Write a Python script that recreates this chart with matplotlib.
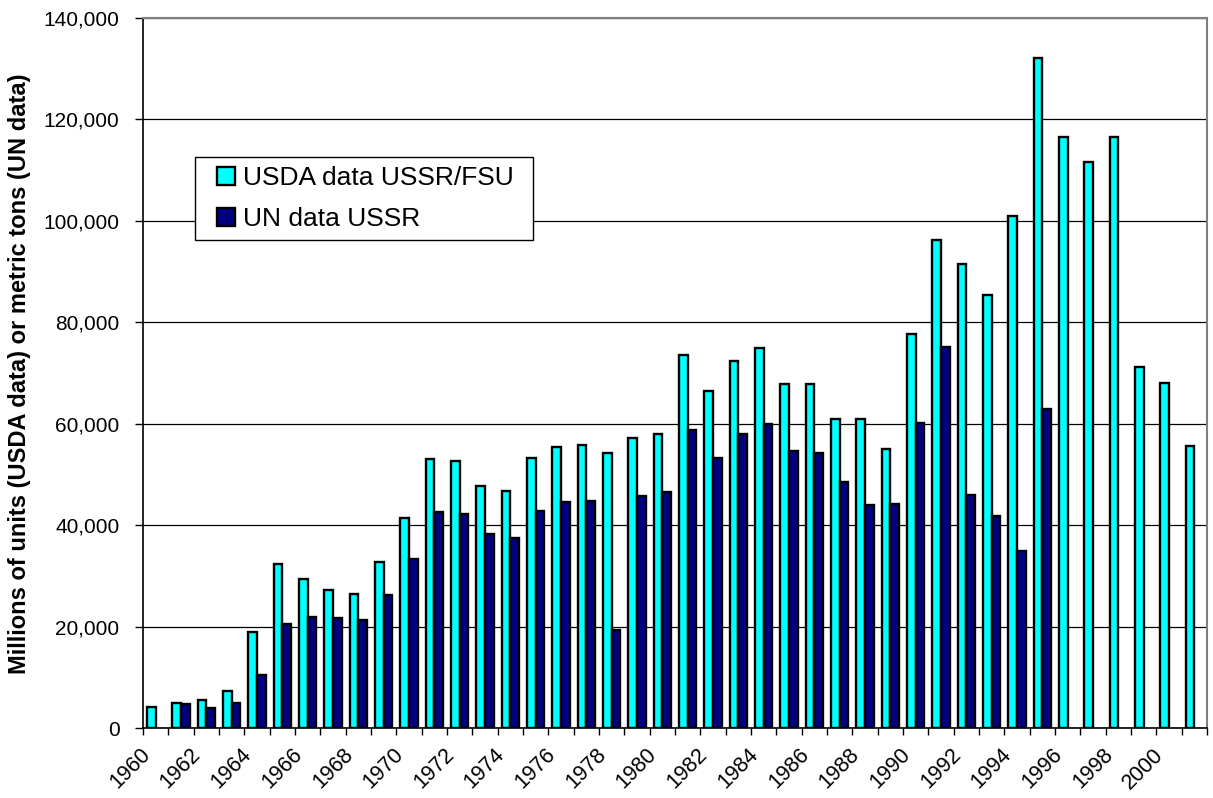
import matplotlib
matplotlib.use("Agg")
import matplotlib.pyplot as plt
import matplotlib.transforms as mtransforms
from matplotlib.patches import Rectangle
import numpy as np

years = list(range(1960, 2002))
usda = [4100, 5000, 5600, 7300, 19000, 32400, 29300, 27200, 26400, 32700,
        41500, 53100, 52600, 47800, 46800, 53300, 55500, 55800, 54200, 57100,
        58000, 73500, 66500, 72400, 74900, 67900, 67900, 60900, 60900, 55000,
        77600, 96300, 91400, 85300, 101000, 132200, 116600, 111600, 116500, 71100,
        68100, 55600]
un = [0, 4800, 3900, 5000, 10450, 20600, 21900, 21600, 21200, 26200,
      33300, 42500, 42100, 38200, 37500, 42800, 44500, 44700, 19400, 45700,
      46500, 58800, 53200, 58000, 59900, 54600, 54200, 48600, 44000, 44200,
      60200, 75100, 46000, 41900, 34900, 62900, 0, 0, 0, 0,
      0, 0]
series_names = ["USDA data USSR/FSU", "UN data USSR"]
yticks = [0, 20000, 40000, 60000, 80000, 100000, 120000, 140000]
ylabel = "Millions of units (USDA data) or metric tons (UN data)"

plt.rcParams['font.family'] = ['Liberation Sans', 'DejaVu Sans']

W, H = 1213, 798
fig = plt.figure(figsize=(W / 100, H / 100), dpi=100)
ax = fig.add_axes([143 / W, 1 - 728 / H, (1207 - 143) / W, (728 - 18) / H])

n = len(years)
x = np.arange(n) + 0.5
bw = 0.34
un_plot = [v if v > 0 else np.nan for v in un]
ax.bar(x - bw / 2, usda, width=bw, color='#00FFFF', edgecolor='black', linewidth=1.7,
       label=series_names[0], zorder=3)
ax.bar(x + bw / 2, un_plot, width=bw, color='#000080', edgecolor='black', linewidth=1.7,
       label=series_names[1], zorder=3)

ax.set_xlim(0, n)
ax.set_ylim(0, 140000)
ax.set_yticks(yticks)
ax.set_yticklabels([f"{v:,}" for v in yticks], fontsize=15)
ax.yaxis.grid(True, color='black', linewidth=0.9, zorder=0)

ax.set_xticks(np.arange(0, n + 1))
labels = [str(1960 + i) if (i % 2 == 0 and i <= 40) else "" for i in range(n + 1)]
ax.set_xticklabels(labels, fontsize=15.5, rotation=45, ha='right', va='center',
                   rotation_mode='anchor')
ax.tick_params(axis='x', length=5, width=1, direction='out', pad=12)
ax.tick_params(axis='y', length=6, width=1, direction='out', pad=11)
shift = mtransforms.ScaledTranslation(4 / 100, 0, fig.dpi_scale_trans)
for lab in ax.get_xticklabels():
    lab.set_transform(lab.get_transform() + shift)

for s in ['top', 'right']:
    ax.spines[s].set_color('#808080')
    ax.spines[s].set_linewidth(1.5)
for s in ['left', 'bottom']:
    ax.spines[s].set_color('black')
    ax.spines[s].set_linewidth(1.2)
ax.spines['bottom'].set_zorder(4)

fig.text(20 / W, 1 - 374 / H, ylabel, rotation=90, ha='center', va='center',
         fontsize=17, fontweight='bold')

# legend frame
frame = Rectangle((195 / W, 1 - 240 / H), (533 - 195) / W, (240 - 157) / H,
                  transform=fig.transFigure, facecolor='white', edgecolor='black',
                  linewidth=1.0, zorder=4.5, clip_on=False)
ax.add_patch(frame)

leg = ax.legend(loc='upper left', bbox_to_anchor=(217 / W, 1 - 166 / H),
                bbox_transform=fig.transFigure, borderaxespad=0,
                fontsize=19, frameon=False,
                handlelength=0.67, handleheight=0.68, handletextpad=0.3,
                labelspacing=0.66, borderpad=0)
leg.set_zorder(5)

fig.savefig("out.png", dpi=100)
